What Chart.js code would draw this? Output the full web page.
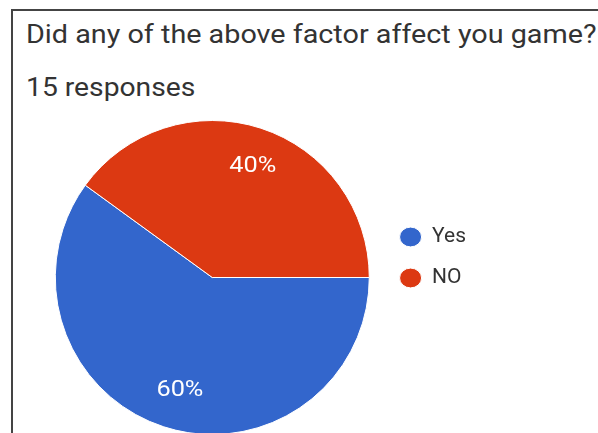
<!DOCTYPE html>
<html>
<head>
<meta charset="utf-8">
<script src="https://cdn.jsdelivr.net/npm/chart.js@4/dist/chart.umd.min.js"></script>
<style>
  html, body { margin: 0; padding: 0; background: #fff; overflow: hidden; }
  body { width: 598px; height: 433px; position: relative; font-family: Roboto, "Noto Sans", sans-serif; }
  #frame {
    position: absolute; left: 11px; top: 9px; width: 700px; height: 500px;
    border-left: 2px solid #444; border-top: 2px solid #444;
  }
  #title, #sub {
    position: absolute; font-size: 25px; color: #333; white-space: nowrap;
    transform-origin: 0 0;
  }
  #title { left: 26px; top: 20px; transform: scaleX(1.15); }
  #sub { left: 26px; top: 73px; transform: scaleX(1.13); }
  #chart { position: absolute; left: 0; top: 0; }
</style>
</head>
<body>
<div id="frame"></div>
<div id="title">Did any of the above factor affect you game?</div>
<div id="sub">15 responses</div>
<canvas id="chart" width="598" height="435"></canvas>
<script>
const answers = ["Yes", "NO"];
const counts = [9, 6];
const sliceColors = ["#3366cc", "#dc3912"];

// percentage labels inside each slice, like the Google Forms summary
const sliceLabels = {
  id: "sliceLabels",
  afterDatasetsDraw(chart) {
    const ctx = chart.ctx;
    const meta = chart.getDatasetMeta(0);
    const total = counts.reduce((a, b) => a + b, 0);
    ctx.save();
    ctx.font = "22px Roboto, sans-serif";
    ctx.fillStyle = "#fff";
    ctx.textAlign = "center";
    ctx.textBaseline = "middle";
    meta.data.forEach((arc, i) => {
      const p = arc.getProps(["x", "y", "startAngle", "endAngle", "outerRadius"], true);
      const mid = (p.startAngle + p.endAngle) / 2;
      const r = p.outerRadius * 0.75;
      const pct = Math.round(counts[i] / total * 100) + "%";
      const tx = p.x + Math.cos(mid) * r + 4;
      const ty = p.y + Math.sin(mid) * r + 1;
      ctx.save();
      ctx.translate(tx, ty);
      ctx.scale(1.15, 1);
      ctx.fillText(pct, 0, 0);
      ctx.restore();
    });
    ctx.restore();
  }
};

// nudge the legend up a little, it sits above the pie's middle
const legendShift = {
  id: "legendShift",
  afterLayout(chart) {
    chart.legend.top -= 20;
    chart.legend.bottom -= 20;
  }
};

new Chart(document.getElementById("chart"), {
  type: "pie",
  data: {
    labels: answers,
    datasets: [{
      data: counts,
      backgroundColor: sliceColors,
      borderColor: "#fff",
      borderWidth: 1
    }]
  },
  options: {
    responsive: false,
    animation: false,
    rotation: 90,
    layout: { padding: { left: 45, top: 120, right: 122, bottom: 0 } },
    plugins: {
      legend: {
        position: "right",
        labels: {
          usePointStyle: true,
          pointStyle: "circle",
          pointStyleWidth: 22,
          boxHeight: 14,
          padding: 20,
          color: "#333",
          font: { family: "Roboto, sans-serif", size: 21 }
        }
      },
      tooltip: { enabled: false }
    }
  },
  plugins: [sliceLabels, legendShift]
});
</script>
</body>
</html>
